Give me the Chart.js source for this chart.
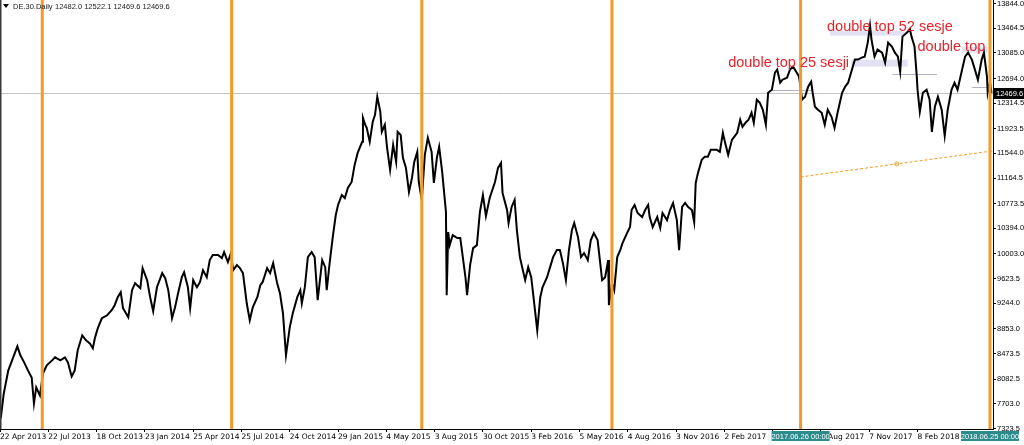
<!DOCTYPE html>
<html>
<head>
<meta charset="utf-8">
<script src="https://cdn.jsdelivr.net/npm/chart.js@4.4.1/dist/chart.umd.min.js"></script>
<style>
  html, body { margin: 0; padding: 0; background: #fff; }
  #wrap { position: relative; width: 1024px; height: 445px; }
</style>
</head>
<body>
<div id="wrap"><canvas id="daxChart" width="1024" height="445"></canvas></div>
<script>
// DE.30 daily (session number from 22 Apr 2013, price)
const sessions = [
  1, 5, 11, 16, 23, 27, 32, 37, 42, 45, 48, 53, 57, 62, 69, 73, 80, 86, 90, 95,
  99, 103, 109, 114, 119, 123, 126, 130, 135, 142, 148, 152, 156, 160, 163, 170, 175, 179, 186, 189,
  195, 199, 203, 208, 215, 219, 223, 228, 232, 236, 241, 244, 249, 252, 256, 261, 265, 269, 274, 278,
  282, 289, 294, 297, 302, 306, 309, 314, 318, 322, 327, 331, 335, 341, 345, 348, 354, 358, 362, 367,
  371, 375, 379, 384, 388, 394, 398, 400, 404, 408, 413, 417, 421, 427, 431, 433, 437, 441, 445, 448,
  453, 457, 461, 466, 470, 474, 480, 481, 484, 486, 490, 494, 497, 500, 504, 506, 510, 513, 517, 521,
  525, 527, 531, 534, 538, 542, 546, 549, 553, 555, 559, 563, 567, 572, 575, 579, 582, 586, 588, 591,
  592, 594, 596, 600, 606, 610, 613, 617, 619, 623, 627, 632, 636, 640, 644, 649, 656, 660, 664, 666,
  672, 674, 678, 682, 685, 689, 692, 696, 700, 704, 706, 712, 716, 719, 725, 729, 733, 738, 742, 746,
  750, 754, 758, 761, 766, 770, 774, 779, 783, 787, 792, 795, 798, 802, 806, 807, 811, 814, 818, 822,
  825, 831, 835, 837, 841, 845, 851, 855, 859, 861, 865, 871, 875, 878, 884, 888, 892, 897, 900, 904,
  908, 912, 917, 920, 922, 925, 930, 934, 938, 942, 946, 950, 954, 958, 961, 965, 970, 973, 977, 981,
  984, 988, 992, 996, 999, 1003, 1007, 1011, 1015, 1018, 1023, 1027, 1030, 1034, 1037, 1043, 1047, 1051, 1056, 1059,
  1063, 1067, 1071, 1075, 1077, 1080, 1084, 1089, 1093, 1097, 1102, 1106, 1110, 1116, 1120, 1124, 1129, 1133, 1137, 1142,
  1146, 1150, 1153, 1155, 1159, 1163, 1169, 1173, 1177, 1182, 1186, 1190, 1193, 1196, 1202, 1206, 1208, 1212, 1215, 1216,
  1219, 1223, 1228, 1232, 1235, 1239, 1243, 1248, 1252, 1256, 1261, 1265, 1269, 1275, 1279, 1283, 1288, 1292, 1296, 1301,
  1304, 1308, 1309, 1312, 1314
];
const prices = [
  7477, 7861, 8215, 8369, 8584, 8446, 8338, 8215, 8107, 7707, 7953, 7830, 8169, 8292, 8369, 8415, 8369, 8415, 8338, 8123,
  8215, 8523, 8753, 8676, 8630, 8553, 8722, 8876, 9015, 9061, 9138, 9215, 9338, 9415, 9169, 9030, 9445, 9553, 9476, 9784,
  9599, 9338, 9122, 9491, 9707, 9630, 9445, 9015, 9184, 9399, 9645, 9722, 9491, 9169, 9599, 9491, 9568, 9753, 9645, 9907,
  9984, 9984, 9938, 10030, 9876, 10014, 9753, 9830, 9784, 9707, 9245, 8984, 9184, 9338, 9522, 9568, 9784, 9707, 9861, 9568,
  9399, 9092, 8446, 8876, 9092, 9338, 9445, 9245, 9491, 9953, 10030, 9953, 9292, 9907, 9799, 9445, 9876, 10260, 10599, 10753,
  10906, 10860, 11014, 11106, 11368, 11552, 11722, 12091, 11983, 11937, 11722, 12029, 12137, 12414, 12183, 11875, 11983, 11629, 11291, 11675,
  11414, 11875, 11829, 11476, 11322, 10953, 11168, 11414, 11568, 11106, 10830, 11522, 11783, 11568, 11091, 11476, 11645, 11260, 11014, 10645,
  9368, 10337, 10137, 10291, 10245, 10245, 9984, 9630, 9368, 9830, 10091, 10137, 10645, 10906, 10583, 10860, 11106, 11322, 11399, 10937,
  10676, 10476, 10722, 10830, 10368, 9953, 9799, 9599, 9799, 9645, 9445, 8830, 9338, 9491, 9645, 9799, 9953, 10061, 10061, 9861,
  9599, 10061, 10368, 10476, 10260, 9953, 10014, 9907, 10214, 10322, 10214, 9907, 9599, 9645, 9907, 9215, 9553, 9445, 9953, 10061,
  10168, 10322, 10414, 10676, 10753, 10630, 10568, 10676, 10753, 10568, 10414, 10568, 10399, 10630, 10522, 10676, 10783, 10522, 10061, 10722,
  10783, 10722, 10676, 10491, 11091, 11245, 11445, 11491, 11491, 11599, 11599, 11599, 11568, 11860, 11706, 11522, 11752, 11798, 11860, 12060,
  11952, 12014, 12060, 12168, 12014, 12368, 12321, 12214, 11983, 12475, 12521, 12783, 12829, 12629, 12675, 12706, 12829, 12875, 12783, 12721,
  12368, 12414, 12567, 12644, 12475, 12260, 12214, 12168, 11983, 12214, 12106, 11937, 12168, 12475, 12567, 12629, 12829, 12983, 12983, 13014,
  13029, 13244, 13506, 13290, 13029, 13137, 13090, 12937, 13244, 13183, 13090, 13029, 12798, 13336, 13398, 13444, 13336, 13183, 12721, 12521,
  12183, 12475, 12521, 12368, 11875, 12260, 12414, 12214, 11814, 12214, 12521, 12629, 12521, 12829, 13029, 13090, 12983, 12829, 12675, 12983,
  13090, 12721, 12475, 12644, 12469.6
];

const yTicks = [7323.5, 7703.0, 8082.5, 8473.5, 8853.0, 9244.0, 9623.5, 10003.0, 10394.0, 10773.5,
  11164.5, 11544.0, 11923.5, 12314.5, 12694.0, 13085.0, 13464.5, 13844.0];
const xTickLabels = ["22 Apr 2013", "22 Jul 2013", "18 Oct 2013", "23 Jan 2014", "25 Apr 2014", "25 Jul 2014",
  "24 Oct 2014", "29 Jan 2015", "4 May 2015", "3 Aug 2015", "30 Oct 2015", "3 Feb 2016", "5 May 2016",
  "4 Aug 2016", "3 Nov 2016", "2 Feb 2017", "5 May 2017", "4 Aug 2017", "7 Nov 2017", "8 Feb 2018"];
const sessionsPerLabel = 64;

// yearly vertical lines and the two that carry a date tag
const yearLines = [56, 307, 559, 811, 1061, 1312];
const yearLineTags = { 1061: "2017.06.26 00:00", 1312: "2018.06.25 00:00" };
const lastPrice = 12469.6;
const headerText = "DE.30.Daily";
const headerQuote = "12482.0 12522.1 12469.6 12469.6";

// trend line (session, price)
const trendFrom = [1061, 11183];
const trendTo = [1316, 11583];

// text notes: [label, session, price]
const notes = [
  ["double top 25 sesji", 965, 12937],
  ["double top 52 sesje", 1096, 13490],
  ["double top", 1216, 13183]
];
// shaded zones [s1, s2, p1, p2] and thin levels [s1, s2, p]
const zones = [
  [1128, 1203, 12983, 12875],
  [1100, 1199, 13429, 13352],
  [1275, 1309, 13183, 13090]
];
const levels = [
  [1183, 1242, 12767],
  [1288, 1309, 12567],
  [1023, 1076, 12521]
];

const ORANGE = "#f29b26";

const overlays = {
  id: "overlays",
  beforeDatasetsDraw(chart) {
    const { ctx, chartArea: a, scales: { x, y } } = chart;
    ctx.save();
    ctx.fillStyle = "#e2e2f4";
    zones.forEach(([s1, s2, p1, p2]) => {
      const x1 = x.getPixelForValue(s1), x2 = x.getPixelForValue(s2);
      const y1 = y.getPixelForValue(p1), y2 = y.getPixelForValue(p2);
      ctx.fillRect(x1, y1, x2 - x1, y2 - y1);
    });
    ctx.strokeStyle = "#b4b4c8";
    ctx.lineWidth = 1;
    levels.forEach(([s1, s2, p]) => {
      const py = Math.round(y.getPixelForValue(p)) + 0.5;
      ctx.beginPath();
      ctx.moveTo(x.getPixelForValue(s1), py);
      ctx.lineTo(x.getPixelForValue(s2), py);
      ctx.stroke();
    });
    // current price line
    const ly = Math.round(y.getPixelForValue(lastPrice)) + 0.5;
    ctx.strokeStyle = "#c4c4c4";
    ctx.beginPath();
    ctx.moveTo(a.left, ly);
    ctx.lineTo(a.right, ly);
    ctx.stroke();
    ctx.restore();
  },
  afterDatasetsDraw(chart) {
    const { ctx, chartArea: a, scales: { x, y } } = chart;
    ctx.save();
    ctx.strokeStyle = ORANGE;
    ctx.lineWidth = 3;
    yearLines.forEach((s) => {
      const px = x.getPixelForValue(s);
      ctx.beginPath();
      ctx.moveTo(px, a.top);
      ctx.lineTo(px, a.bottom);
      ctx.stroke();
    });
    // dashed trend line
    ctx.lineWidth = 1;
    ctx.setLineDash([3, 2]);
    ctx.beginPath();
    ctx.moveTo(x.getPixelForValue(trendFrom[0]), y.getPixelForValue(trendFrom[1]));
    ctx.lineTo(x.getPixelForValue(trendTo[0]), y.getPixelForValue(trendTo[1]));
    ctx.stroke();
    ctx.setLineDash([]);
    const mx = (x.getPixelForValue(trendFrom[0]) + x.getPixelForValue(trendTo[0])) / 2;
    const my = (y.getPixelForValue(trendFrom[1]) + y.getPixelForValue(trendTo[1])) / 2;
    ctx.beginPath();
    ctx.arc(mx, my, 2, 0, Math.PI * 2);
    ctx.stroke();
    // red notes
    ctx.fillStyle = "#e5232b";
    ctx.font = "14.5px 'Liberation Sans', Arial, sans-serif";
    ctx.textBaseline = "middle";
    notes.forEach(([t, s, p]) => {
      ctx.fillText(t, x.getPixelForValue(s), y.getPixelForValue(p));
    });
    ctx.restore();
  },
  afterDraw(chart) {
    const { ctx, chartArea: a, scales: { x, y } } = chart;
    ctx.save();
    // left frame
    ctx.strokeStyle = "#3a3a3a";
    ctx.lineWidth = 1.5;
    ctx.beginPath();
    ctx.moveTo(0.75, 0);
    ctx.lineTo(0.75, a.bottom);
    ctx.stroke();
    // last price tag
    const ly = Math.round(y.getPixelForValue(lastPrice));
    ctx.fillStyle = "#000";
    ctx.fillRect(a.right, ly - 5, 1024 - a.right, 11);
    ctx.fillStyle = "#fff";
    ctx.font = "7.5px 'Liberation Sans', Arial, sans-serif";
    ctx.textBaseline = "middle";
    ctx.textAlign = "left";
    ctx.fillText(lastPrice.toFixed(1), a.right + 3, ly + 0.5);
    // date tags on the time axis
    Object.keys(yearLineTags).forEach((s) => {
      const px = x.getPixelForValue(+s);
      ctx.fillStyle = "#2c8c8c";
      ctx.fillRect(px - 29, a.bottom + 2, 58, 10);
      ctx.fillStyle = "#fff";
      ctx.textAlign = "center";
      ctx.fillText(yearLineTags[s], px, a.bottom + 7.5);
    });
    // header
    ctx.fillStyle = "#000";
    ctx.beginPath();
    ctx.moveTo(3, 4);
    ctx.lineTo(9, 4);
    ctx.lineTo(6, 8);
    ctx.closePath();
    ctx.fill();
    ctx.textAlign = "left";
    ctx.fillStyle = "#222";
    ctx.fillText(headerText, 13, 6.5);
    ctx.fillText(headerQuote, 55, 6.5);
    ctx.restore();
  }
};

new Chart(document.getElementById("daxChart").getContext("2d"), {
  type: "line",
  data: {
    datasets: [
      {
        label: "DE.30",
        data: sessions.map((s, i) => ({ x: s, y: prices[i] })),
        borderColor: "#000",
        borderWidth: 2,
        borderJoinStyle: "miter",
        pointRadius: 0,
        tension: 0,
        fill: false,
      },
    ],
  },
  options: {
    responsive: false,
    animation: false,
    devicePixelRatio: 1,
    layout: { padding: 0 },
    plugins: { legend: { display: false }, tooltip: { enabled: false } },
    scales: {
      x: {
        type: "linear",
        position: "bottom",
        min: 0,
        max: 1316,
        afterBuildTicks: (s) => {
          s.ticks = xTickLabels.map((_, i) => ({ value: i * sessionsPerLabel }));
        },
        afterFit: (s) => {
          s.height = 16;
          s.paddingLeft = 0;
          s.paddingRight = 0;
        },
        ticks: {
          autoSkip: false,
          maxRotation: 0,
          align: "start",
          padding: 1,
          color: "#000",
          font: { family: "'DejaVu Sans', sans-serif", size: 7.5 },
          callback: (v, i) => xTickLabels[i],
        },
        grid: { drawOnChartArea: false, drawTicks: true, tickLength: 3, color: "#000" },
        border: { color: "#000" },
      },
      y: {
        type: "linear",
        position: "right",
        min: 7315.8,
        max: 13897.7,
        afterBuildTicks: (s) => {
          s.ticks = yTicks.map((v) => ({ value: v }));
        },
        afterFit: (s) => {
          s.width = 31;
          s.paddingTop = 0;
          s.paddingBottom = 0;
        },
        ticks: {
          padding: 1,
          color: "#000",
          font: { family: "'Liberation Sans', Arial, sans-serif", size: 7.5 },
          callback: (v) => Number(v).toFixed(1),
        },
        grid: { drawOnChartArea: false, drawTicks: true, tickLength: 3, color: "#000" },
        border: { color: "#000" },
      },
    },
  },
  plugins: [overlays],
});
</script>
</body>
</html>
